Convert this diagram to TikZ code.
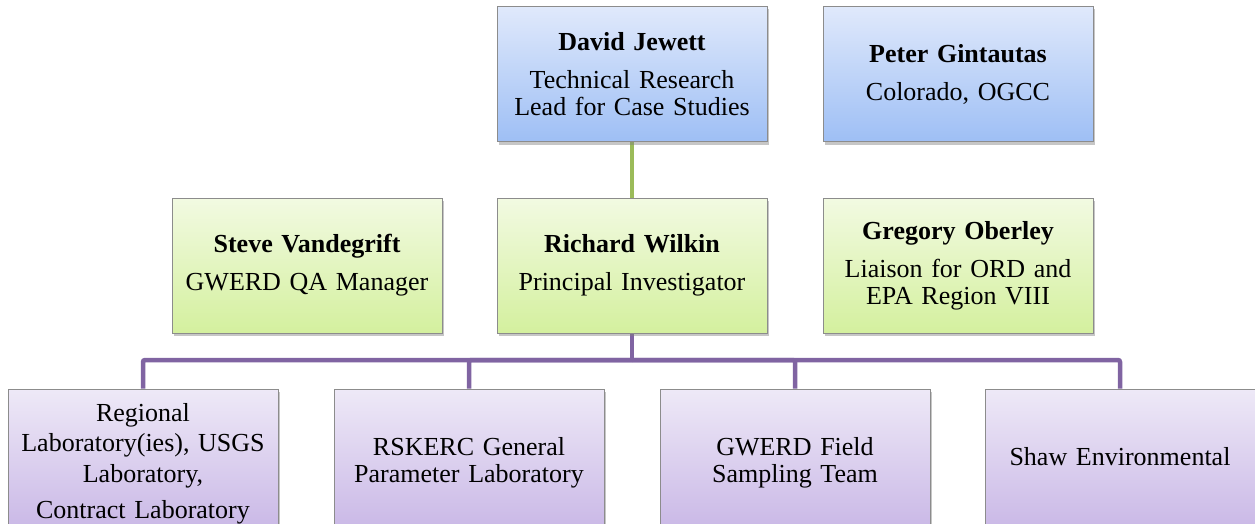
\documentclass[tikz,border=0pt]{standalone}
\usepackage{fontspec}
\setmainfont{Liberation Serif}
\usetikzlibrary{shadows,backgrounds}
\definecolor{bluetop}{RGB}{224,233,251}
\definecolor{bluebot}{RGB}{158,191,245}
\definecolor{greentop}{RGB}{242,250,226}
\definecolor{greenbot}{RGB}{212,240,158}
\definecolor{purptop}{RGB}{238,233,247}
\definecolor{purpbot}{RGB}{203,186,231}
\definecolor{greenline}{RGB}{155,187,89}
\definecolor{purpline}{RGB}{128,100,162}
\tikzset{
  box/.style={draw=black!45, line width=0.8pt, minimum width=270pt, minimum height=135pt,
    inner sep=4pt, text width=262pt, align=center, font=\fontsize{26}{27}\selectfont,
    drop shadow={shadow xshift=2pt, shadow yshift=-3pt, opacity=0.45}},
  bluebox/.style={box, top color=bluetop, bottom color=bluebot},
  greenbox/.style={box, top color=greentop, bottom color=greenbot},
  purpbox/.style={box, top color=purptop, bottom color=purpbot},
  link/.style={line width=4.5pt, rounded corners=2pt}
}
\begin{document}
\begin{tikzpicture}[x=1pt,y=-1pt]
    \useasboundingbox (0,0) rectangle (1255,524);
    % top row
    \node[bluebox] (jewett) at (632,74) {\textbf{David Jewett}\\[11pt]Technical Research\\Lead for Case Studies};
    \node[bluebox] (gintautas) at (958,74) {\textbf{Peter Gintautas}\\[11pt]Colorado, OGCC};
    % middle row
    \node[greenbox] (vandegrift) at (307,265.5) {\textbf{Steve Vandegrift}\\[11pt]GWERD QA Manager};
    \node[greenbox] (wilkin) at (632,265.5) {\textbf{Richard Wilkin}\\[11pt]Principal Investigator};
    \node[greenbox] (oberley) at (958,265.5) {\textbf{Gregory Oberley}\\[11pt]Liaison for ORD and\\EPA Region VIII};
    % bottom row
    \node[purpbox, font=\fontsize{26}{30.5}\selectfont, text depth=89pt] (regional) at (143,456.5)
      {Regional\\Laboratory(ies), USGS\\Laboratory,\\[6pt]Contract Laboratory};
    \node[purpbox] (rskerc) at (469,456.5) {\rule{0pt}{30pt}RSKERC General\\Parameter Laboratory};
    \node[purpbox] (fieldteam) at (795,456.5) {\rule{0pt}{30pt}GWERD Field\\Sampling Team};
    \node[purpbox] (shaw) at (1120,456.5) {Shaw Environmental};
    % connectors
    \coordinate (bus) at (632,360);
    \begin{scope}[on background layer]
      \draw[link, greenline, line width=4pt] (jewett) -- (wilkin);
      \draw[link, purpline] (wilkin) -- (bus);
      \draw[link, purpline] (bus) -| (regional);
      \draw[link, purpline] (bus) -| (rskerc);
      \draw[link, purpline] (bus) -| (fieldteam);
      \draw[link, purpline] (bus) -| (shaw);
    \end{scope}
\end{tikzpicture}
\end{document}
